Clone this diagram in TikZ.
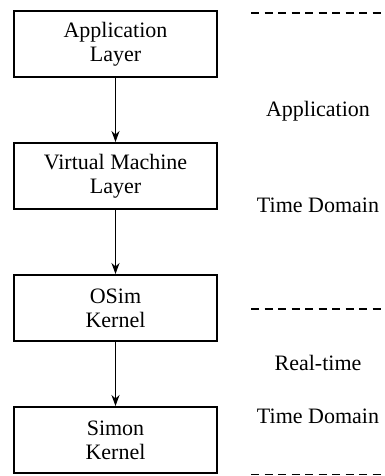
\documentclass[tikz,border=0pt]{standalone}
\usepackage{fontspec}
\setmainfont{Liberation Serif}
\usetikzlibrary{arrows.meta}
\begin{document}
\begin{tikzpicture}[x=0.5pt,y=-0.5pt,
  layerbox/.style={draw,line width=1pt,minimum width=101.5pt,minimum height=33pt,
    inner sep=0pt,align=center,font=\fontsize{11}{12}\selectfont},
  domtext/.style={anchor=base,font=\fontsize{11}{13}\selectfont,inner sep=0pt},
  sep/.style={line width=0.9pt,dash pattern=on 4pt off 2.75pt},
  flow/.style={line width=0.85pt,-{Stealth[length=5.5pt,width=4pt]}}]
\useasboundingbox (0,0) rectangle (385,476);
\node[layerbox] (app) at (115.5,44.5) {Application\\Layer};
\node[layerbox] (vm) at (115.5,176) {Virtual Machine\\Layer};
\node[layerbox] (osim) at (115.5,308) {OSim\\Kernel};
\node[layerbox] (simon) at (115.5,440) {Simon\\Kernel};
\draw[flow] (app) -- (vm);
\draw[flow] (vm) -- (osim);
\draw[flow] (osim) -- (simon);
\coordinate (d1a) at (251,12.7); \coordinate (d1b) at (385,12.7);
\coordinate (d2a) at (251,309); \coordinate (d2b) at (385,309);
\coordinate (d3a) at (251,474.5); \coordinate (d3b) at (385,474.5);
\draw[sep] (d1a) -- (d1b);
\draw[sep] (d2a) -- (d2b);
\draw[sep] (d3a) -- (d3b);
\node[domtext] (t1) at (318,116.7) {Application};
\node[domtext] (t2) at (318,212.7) {Time Domain};
\node[domtext] (t3) at (318,370) {Real-time};
\node[domtext] (t4) at (318,423.3) {Time Domain};
\end{tikzpicture}
\end{document}
